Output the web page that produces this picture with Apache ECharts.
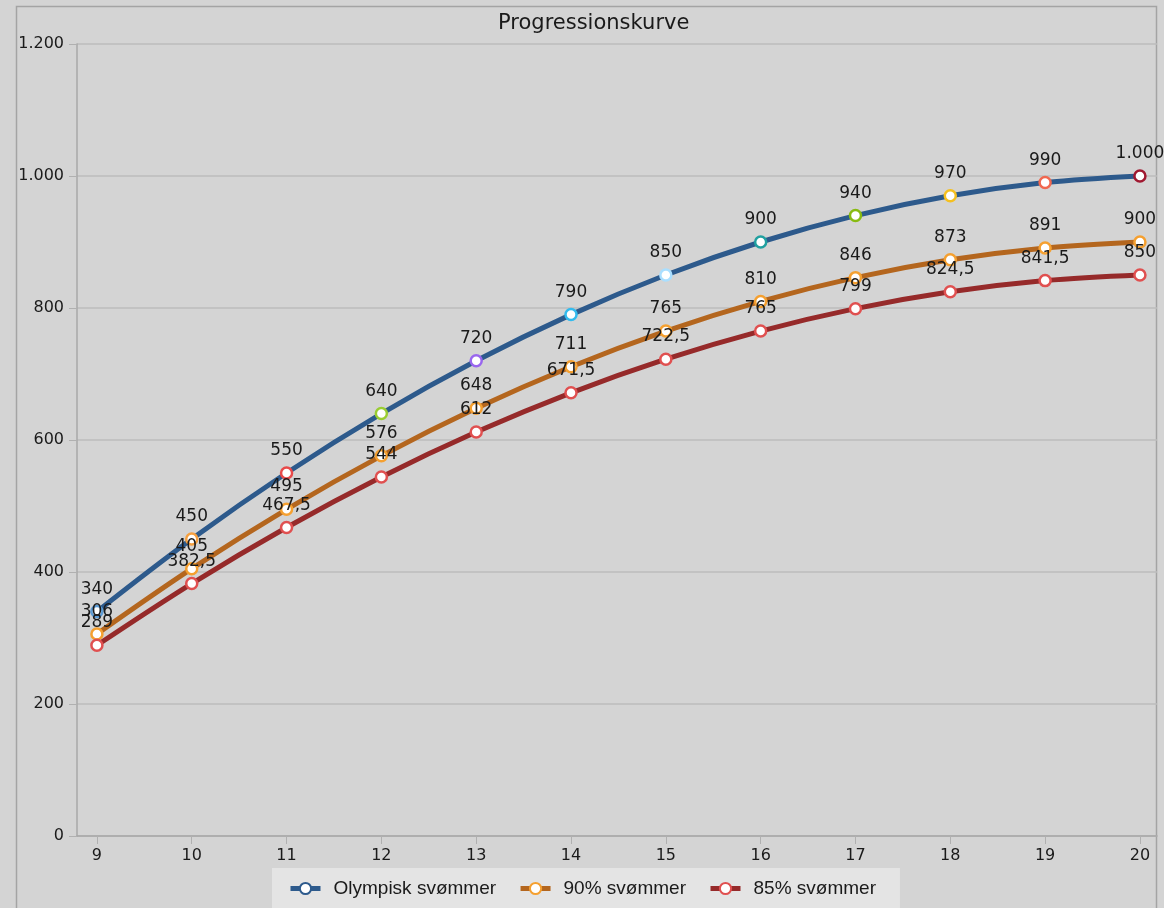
<!DOCTYPE html>
<html>
<head>
<meta charset="utf-8">
<title>Progressionskurve</title>
<script src="https://cdn.jsdelivr.net/npm/echarts@6/dist/echarts.min.js"></script>
<style>
  html, body { margin: 0; padding: 0; background: #d4d4d4; }
  #chart { width: 1164px; height: 908px; }
</style>
</head>
<body>
<div id="chart"></div>
<script>
// Ages (x) and points per level
const ages = [9, 10, 11, 12, 13, 14, 15, 16, 17, 18, 19, 20];
const olympisk = [340, 450, 550, 640, 720, 790, 850, 900, 940, 970, 990, 1000];
const svommer90 = [306, 405, 495, 576, 648, 711, 765, 810, 846, 873, 891, 900];
const svommer85 = [289, 382.5, 467.5, 544, 612, 671.5, 722.5, 765, 799, 824.5, 841.5, 850];
const seriesNames = ['Olympisk svømmer', '90% svømmer', '85% svømmer'];
const yTicks = [0, 200, 400, 600, 800, 1000, 1200];

// marker outline colours for the top curve, one per age
const olympiskMarkerColors = ['#5b9bd5', '#f5a040', '#e84a4a', '#9acd32', '#9966ee', '#33bbee',
  '#aadfff', '#20a0a0', '#88bb11', '#f5c020', '#f06850', '#a01830'];

// Danish number style: "." for thousands, "," for decimals
function fmt(v) {
  const neg = v < 0;
  v = Math.abs(v);
  let [ip, dp] = String(v).split('.');
  ip = ip.replace(/\B(?=(\d{3})+(?!\d))/g, '.');
  return (neg ? '-' : '') + ip + (dp ? ',' + dp : '');
}

const pairs = arr => arr.map((v, i) => [ages[i], v]);

const chart = echarts.init(document.getElementById('chart'), null, { renderer: 'canvas' });

const labelStyle = {
  show: true,
  position: 'top',
  distance: 7,
  color: '#1a1a1a',
  fontFamily: 'DejaVu Sans',
  fontSize: 17,
  formatter: p => fmt(p.value[1])
};

function lineSeries(name, values, lineColor, markerColor, perPoint) {
  return {
    name: name,
    type: 'line',
    smooth: 0.35,
    symbol: 'circle',
    symbolSize: 11,
    lineStyle: { color: lineColor, width: 5 },
    itemStyle: { color: '#ffffff', borderColor: markerColor, borderWidth: 2.5 },
    label: labelStyle,
    emphasis: { disabled: true },
    data: pairs(values).map((d, i) => perPoint
      ? { value: d, itemStyle: { borderColor: perPoint[i] } }
      : { value: d })
  };
}

chart.setOption({
  backgroundColor: '#d4d4d4',
  animation: false,
  title: {
    text: 'Progressionskurve',
    left: 493,
    top: 8,
    textStyle: { fontFamily: 'DejaVu Sans', fontSize: 21, fontWeight: 'normal', color: '#1a1a1a' }
  },
  legend: {
    data: seriesNames,
    left: 272,
    top: 868,
    padding: [11, 24, 30, 16],
    itemGap: 22,
    itemWidth: 30,
    itemHeight: 14,
    backgroundColor: '#e4e4e4',
    lineStyle: { width: 5 },
    textStyle: { fontFamily: 'Liberation Sans', fontSize: 19, color: '#1a1a1a', padding: [0, 0, 0, 8] }
  },
  grid: { left: 77, top: 44, right: 7, bottom: 72, containLabel: false },
  xAxis: {
    type: 'value',
    min: 8.79,
    max: 20.18,
    axisLine: { show: true, lineStyle: { color: '#a8a8a8', width: 1.5 } },
    axisTick: { show: true, customValues: ages, length: 8, lineStyle: { color: '#b0b0b0' } },
    axisLabel: {
      customValues: ages,
      margin: 12,
      color: '#1a1a1a',
      fontFamily: 'DejaVu Sans',
      fontSize: 16
    },
    splitLine: { show: false }
  },
  yAxis: {
    type: 'value',
    min: 0,
    max: 1200,
    interval: 200,
    axisLine: { show: true, lineStyle: { color: '#a8a8a8', width: 1.5 } },
    axisTick: { show: true, length: 8, lineStyle: { color: '#b0b0b0' } },
    axisLabel: {
      customValues: yTicks,
      margin: 13,
      color: '#1a1a1a',
      fontFamily: 'DejaVu Sans',
      fontSize: 16,
      formatter: v => fmt(v)
    },
    splitLine: { show: true, lineStyle: { color: '#bdbdbd', width: 1.5 } }
  },
  graphic: [{
    type: 'rect',
    silent: true,
    shape: { x: 16.5, y: 6.5, width: 1140, height: 940 },
    style: { fill: null, stroke: '#a4a4a4', lineWidth: 1.5 },
    z: -1
  }],
  series: [
    lineSeries(seriesNames[0], olympisk, '#2d5a8c', '#2d5a8c', olympiskMarkerColors),
    lineSeries(seriesNames[1], svommer90, '#b4661e', '#f5a030', null),
    lineSeries(seriesNames[2], svommer85, '#962a2a', '#e05050', null)
  ]
});
</script>
</body>
</html>
